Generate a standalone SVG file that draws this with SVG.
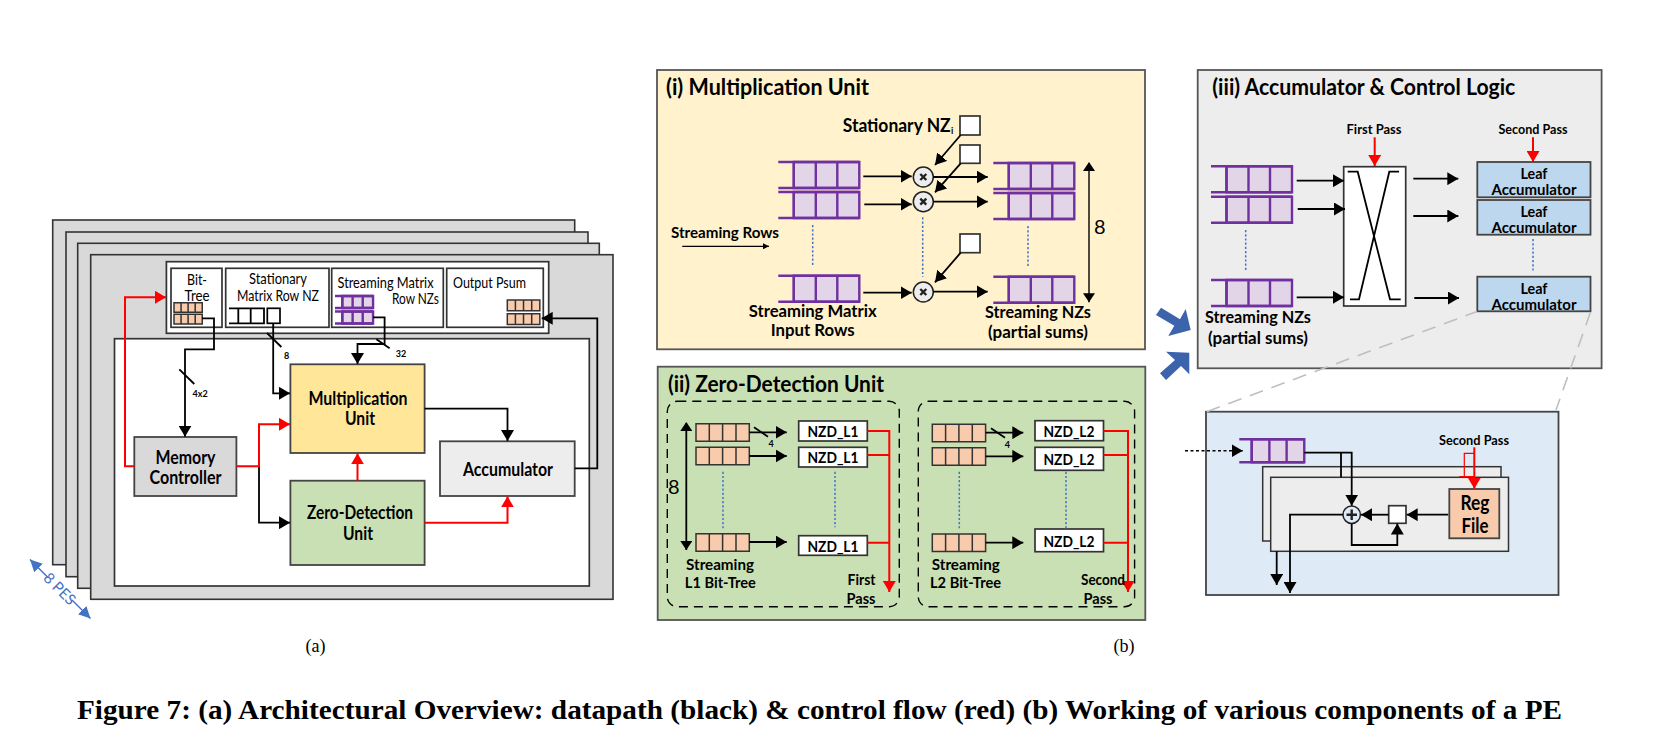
<svg xmlns="http://www.w3.org/2000/svg" xmlns:xlink="http://www.w3.org/1999/xlink" width="1672" height="750" viewBox="0 0 1672 750">
<style>
text{font-family:"Lato","Carlito","Liberation Sans",sans-serif;fill:#000}
.b{font-weight:700}
.m{text-anchor:middle}
.cap{font-family:"Liberation Serif",serif;font-weight:700;font-size:27px}
.ser{font-family:"Liberation Serif",serif;font-size:18px}
.pe{fill:#d9d9d9;stroke:#333;stroke-width:1.6}
.box{stroke:#444;stroke-width:1.8}
.w{fill:#fff;stroke:#333;stroke-width:1.7}
.panel{stroke:#555;stroke-width:1.8}
.k{fill:none;stroke:#000;stroke-width:1.8}
.r{fill:none;stroke:#f00;stroke-width:2}
.d{fill:none;stroke:#4472c4;stroke-width:1.5;stroke-dasharray:2.2 2}
.dash{fill:none;stroke:#000;stroke-width:1.4;stroke-dasharray:9 6}
.gd{fill:none;stroke:#bfbfbf;stroke-width:1.6;stroke-dasharray:14 9}
.qp{fill:#e1d5e7;stroke:#7030a0;stroke-width:2.4;vector-effect:non-scaling-stroke}
.ql{fill:none;stroke:#7030a0;stroke-width:2.4;vector-effect:non-scaling-stroke}
.qo{fill:#f8cbad;stroke:#333;stroke-width:1.5;vector-effect:non-scaling-stroke}
.qo2{fill:none;stroke:#333;stroke-width:1.5;vector-effect:non-scaling-stroke}
.mul{fill:#ededed;stroke:#222;stroke-width:1.5}
.x{stroke:#222;stroke-width:2.4;fill:none}
.lbl{font-size:16px;font-weight:700}
.sm{font-size:9px;font-weight:700}
.reg{font-size:15px}
</style>
<defs>
<marker id="a" markerUnits="userSpaceOnUse" markerWidth="12" markerHeight="13" refX="11" refY="6.5" orient="auto"><path d="M0 0L11 6.5L0 13z" fill="#000"/></marker>
<marker id="as" markerUnits="userSpaceOnUse" markerWidth="7" markerHeight="6" refX="6" refY="3" orient="auto"><path d="M0 0L6 3L0 6z" fill="#000"/></marker>
<marker id="ast" markerUnits="userSpaceOnUse" markerWidth="12" markerHeight="12" refX="1" refY="6" orient="auto"><path d="M9 0L0 6L9 12z" fill="#000"/></marker>
<marker id="ae" markerUnits="userSpaceOnUse" markerWidth="12" markerHeight="12" refX="9" refY="6" orient="auto"><path d="M0 0L9 6L0 12z" fill="#000"/></marker>
<marker id="ar" markerUnits="userSpaceOnUse" markerWidth="12" markerHeight="13" refX="11" refY="6.5" orient="auto"><path d="M0 0L11 6.5L0 13z" fill="#f00"/></marker>
<marker id="ab1" markerUnits="userSpaceOnUse" markerWidth="13" markerHeight="13" refX="12" refY="6" orient="auto"><path d="M0 0L12 6L0 12z" fill="#4472c4"/></marker>
<g id="qpurple"><rect class="qp" x="15.5" y="0" width="65.5" height="26"/><path class="ql" d="M0 0H81M0 26H81M15.5 0V26M37.5 0V26M59 0V26"/></g>
<g id="qorange"><rect class="qo" x="0" y="0" width="53.3" height="17.5"/><path class="qo2" d="M13.3 0V17.5M26.6 0V17.5M40 0V17.5"/></g>
<g id="mulsym"><circle class="mul" r="10"/><path class="x" d="M-3 -3L3 3M3 -3L-3 3"/></g>
</defs>
<rect width="1672" height="750" fill="#fff"/>

<g id="pe-stack">
<rect class="pe" x="52.7" y="220" width="522" height="344.7"/>
<rect class="pe" x="66" y="232" width="522" height="344.7"/>
<rect class="pe" x="77.7" y="243.3" width="521.6" height="345"/>
<rect class="pe" x="90.7" y="254.7" width="522.3" height="344.6"/>
<rect class="w" x="114.5" y="338.7" width="474.8" height="247.3"/>
</g>
<g id="pe-buffers">
<rect class="w" x="166.4" y="261.7" width="382.3" height="71.6"/>
<rect class="w" x="171" y="268.3" width="51" height="59"/>
<rect class="w" x="225.7" y="268.3" width="103.3" height="59"/>
<rect class="w" x="331.7" y="268.3" width="111.6" height="59"/>
<rect class="w" x="446.7" y="268.3" width="96.6" height="59"/>
<text class="reg m" x="197" y="284.5" textLength="20" lengthAdjust="spacingAndGlyphs">Bit-</text><text class="reg m" x="197" y="300.5" textLength="25" lengthAdjust="spacingAndGlyphs">Tree</text>
<text class="reg m" x="278" y="284" textLength="58" lengthAdjust="spacingAndGlyphs">Stationary</text>
<text class="reg m" x="278" y="300.5" textLength="82" lengthAdjust="spacingAndGlyphs">Matrix Row NZ</text>
<text class="reg" x="337.5" y="288" textLength="96" lengthAdjust="spacingAndGlyphs">Streaming Matrix</text>
<text class="reg" x="392" y="304" textLength="47" lengthAdjust="spacingAndGlyphs">Row NZs</text>
<text class="reg" x="453" y="288" textLength="73" lengthAdjust="spacingAndGlyphs">Output Psum</text>
<use href="#qorange" transform="translate(174 302.7) scale(.53 .55)"/>
<use href="#qorange" transform="translate(174 314.3) scale(.53 .55)"/>
<path class="k" d="M229 308.3H264V323.3H229M238.3 308.3V323.3M250.7 308.3V323.3"/>
<rect class="w" x="267.3" y="308.3" width="12.7" height="15" style="stroke:#000"/>
<use href="#qpurple" transform="translate(335 296) scale(.47 .46)"/>
<use href="#qpurple" transform="translate(335 311.5) scale(.47 .46)"/>
<use href="#qorange" transform="translate(507.3 300) scale(.61 .61)"/>
<use href="#qorange" transform="translate(507.3 313.7) scale(.61 .61)"/>
</g>
<g id="mult-a"><rect class="box" x="290.4" y="364.3" width="134.2" height="88.7" fill="#ffe699"/>
<text class="b m" x="358" y="405" font-size="18" textLength="99" lengthAdjust="spacingAndGlyphs">Multiplication</text><text class="b m" x="360" y="425" font-size="18" textLength="30" lengthAdjust="spacingAndGlyphs">Unit</text></g>
<g id="zero-a"><rect class="box" x="290.4" y="480.7" width="134.2" height="84.3" fill="#c9e0b4"/>
<text class="b m" x="360" y="519" font-size="18" textLength="106" lengthAdjust="spacingAndGlyphs">Zero-Detection</text><text class="b m" x="358" y="540" font-size="18" textLength="30" lengthAdjust="spacingAndGlyphs">Unit</text></g>
<g id="mem-a"><rect class="box" x="134.3" y="437" width="102.1" height="59" fill="#d9d9d9"/>
<text class="b m" x="185.5" y="464" font-size="18" textLength="60" lengthAdjust="spacingAndGlyphs">Memory</text><text class="b m" x="185.5" y="484" font-size="18" textLength="72" lengthAdjust="spacingAndGlyphs">Controller</text></g>
<g id="acc-a"><rect class="box" x="440" y="441.3" width="134.7" height="54.7" fill="#ededed"/>
<text class="b m" x="508" y="476" font-size="18" textLength="90" lengthAdjust="spacingAndGlyphs">Accumulator</text></g>

<g id="connectors-a">
<path class="k" d="M202 318.3H214V349.3H185V436.7" marker-end="url(#a)"/>
<path class="k" d="M273.2 323.3V393.3H290" marker-end="url(#a)"/>
<path class="k" d="M373 317.3H384.6V344H357.5V364" marker-end="url(#a)"/>
<path class="k" d="M574.7 468.3H597.3V318.3H541.7" marker-end="url(#a)"/>
<path class="k" d="M424.6 408.7H507.5V441" marker-end="url(#a)"/>
<path class="k" d="M259 466.3V522.7H290" marker-end="url(#a)"/>
<path class="r" d="M236.4 466.3H259V424.3H290" marker-end="url(#ar)"/>
<path class="r" d="M134.3 466.3H125V297.3H166" marker-end="url(#ar)"/>
<path class="r" d="M357.5 480.7V453.3" marker-end="url(#ar)"/>
<path class="r" d="M424.6 522.7H507.5V496.3" marker-end="url(#ar)"/>
<path class="k" d="M179.3 369.3L194.3 384M267 333L281.4 347M376.4 339.3L389.6 348.3"/>
<text class="sm" x="192.5" y="397">4x2</text><text class="sm" x="284" y="359">8</text><text class="sm" x="395.7" y="357">32</text>
<g id="pes-arrow">
<path d="M48 577.5L30 559.5" fill="none" stroke="#4472c4" stroke-width="1.5" marker-end="url(#ab1)"/>
<path d="M72 600L90.5 618.5" fill="none" stroke="#4472c4" stroke-width="1.5" marker-end="url(#ab1)"/>
<text transform="translate(59.5 589) rotate(45)" text-anchor="middle" font-size="15" style="fill:#4472c4" y="5">8 PES</text>
</g>
</g>
<text class="ser m" x="315.6" y="652">(a)</text>

<g id="panel-i">
<rect class="panel" x="657" y="70" width="488" height="279.3" fill="#fff2cc"/>
<text class="b" x="666" y="95" font-size="23" textLength="203" lengthAdjust="spacingAndGlyphs">(i) Multiplication Unit</text>
<text class="b" x="842.7" y="132" font-size="18" textLength="108" lengthAdjust="spacingAndGlyphs">Stationary NZ</text><text class="b" x="951" y="134" font-size="9">i</text>
<rect class="w" x="960" y="116" width="20" height="19"/><rect class="w" x="960" y="145" width="20" height="18.3"/><rect class="w" x="960" y="234" width="20" height="18.7"/>
<use href="#qpurple" x="778.3" y="162"/><use href="#qpurple" x="778.3" y="192"/><use href="#qpurple" x="778.3" y="275.7"/>
<use href="#qpurple" x="993.3" y="163"/><use href="#qpurple" x="993.3" y="193"/><use href="#qpurple" x="993.3" y="276.7"/>
<use href="#mulsym" x="923.3" y="177"/><use href="#mulsym" x="923.3" y="201.7"/><use href="#mulsym" x="923.3" y="292"/>
<path class="k" d="M960.7 135L935 165" marker-end="url(#a)"/><path class="k" d="M960.7 163.3L935 192.3" marker-end="url(#a)"/><path class="k" d="M960.7 252.7L935 282.3" marker-end="url(#a)"/>
<path class="k" d="M863.3 176.3H911.7" marker-end="url(#a)"/><path class="k" d="M864.3 204.3H911.7" marker-end="url(#a)"/><path class="k" d="M863.3 292.7H911.7" marker-end="url(#a)"/>
<path class="k" d="M933.3 177H987.7" marker-end="url(#a)"/><path class="k" d="M933.3 201.7H987.7" marker-end="url(#a)"/><path class="k" d="M933.3 291.7H987.7" marker-end="url(#a)"/>
<path class="d" d="M812.7 225V266.7M922.7 217.3V276.7M1028 226V267.3"/>
<text class="b" x="671" y="238.3" font-size="15.5" textLength="108" lengthAdjust="spacingAndGlyphs">Streaming Rows</text>
<path class="k" d="M682.3 246.3H769" marker-end="url(#as)" style="stroke-width:1.3"/>
<text class="b m" x="812.7" y="317" font-size="17" textLength="128" lengthAdjust="spacingAndGlyphs">Streaming Matrix</text>
<text class="b m" x="812.7" y="336" font-size="17" textLength="84" lengthAdjust="spacingAndGlyphs">Input Rows</text>
<text class="b m" x="1038" y="318" font-size="17" textLength="106" lengthAdjust="spacingAndGlyphs">Streaming NZs</text>
<text class="b m" x="1038" y="338" font-size="17" textLength="100" lengthAdjust="spacingAndGlyphs">(partial sums)</text>
<path class="k" d="M1089 163V302.3" style="stroke-width:1.4" marker-start="url(#ast)" marker-end="url(#ae)"/>
<text class="m" x="1099.7" y="233.5" font-size="20">8</text>
</g>

<g id="panel-ii">
<rect class="panel" x="657.7" y="366.7" width="487.6" height="253.3" fill="#c9e0b4"/>
<text class="b" x="668" y="391.7" font-size="23" textLength="216" lengthAdjust="spacingAndGlyphs">(ii) Zero-Detection Unit</text>
<rect class="dash" x="667.3" y="401.3" width="232" height="205.4" rx="10"/>
<rect class="dash" x="918.3" y="401.3" width="216.3" height="205.4" rx="10"/>
<use href="#qorange" x="696" y="423.7"/><use href="#qorange" x="696" y="447.3"/><use href="#qorange" x="696" y="533.7"/>
<use href="#qorange" x="932.3" y="424.3"/><use href="#qorange" x="932.3" y="447.7"/><use href="#qorange" x="932.3" y="534"/>
<g id="nzd-l1">
<rect class="w" x="798.7" y="421" width="68.6" height="20"/><rect class="w" x="798.7" y="447.3" width="68.6" height="19.7"/><rect class="w" x="798.7" y="535.7" width="68.6" height="19.6"/>
<text class="b m" x="833" y="436.7" font-size="16" textLength="51" lengthAdjust="spacingAndGlyphs">NZD_L1</text>
<text class="b m" x="833" y="462.7" font-size="16" textLength="51" lengthAdjust="spacingAndGlyphs">NZD_L1</text>
<text class="b m" x="833" y="551.7" font-size="16" textLength="51" lengthAdjust="spacingAndGlyphs">NZD_L1</text>
</g>
<g id="nzd-l2">
<rect class="w" x="1035" y="420.7" width="68.5" height="20"/><rect class="w" x="1035" y="447.3" width="68.5" height="23"/><rect class="w" x="1035" y="529" width="68.5" height="22.7"/>
<text class="b m" x="1069" y="436.7" font-size="16" textLength="51" lengthAdjust="spacingAndGlyphs">NZD_L2</text>
<text class="b m" x="1069" y="465" font-size="16" textLength="51" lengthAdjust="spacingAndGlyphs">NZD_L2</text>
<text class="b m" x="1069" y="546.7" font-size="16" textLength="51" lengthAdjust="spacingAndGlyphs">NZD_L2</text>
</g>
<path class="k" d="M749.3 432.3H786.7" marker-end="url(#a)"/><path class="k" d="M749.3 456H786.7" marker-end="url(#a)"/><path class="k" d="M749 542H786.7" marker-end="url(#a)"/>
<path class="k" d="M985.7 432.7H1023.3" marker-end="url(#a)"/><path class="k" d="M985.7 456.3H1023.3" marker-end="url(#a)"/><path class="k" d="M985.7 542.7H1023.3" marker-end="url(#a)"/>
<path class="k" d="M754 427.3L768 436.7M991 428.3L1005 437.7"/>
<text class="sm m" x="771" y="447">4</text><text class="sm m" x="1007.3" y="447.7">4</text>
<path class="k" d="M686.3 423V550" marker-start="url(#ast)" marker-end="url(#ae)"/>
<text class="m" x="673.8" y="494" font-size="20">8</text>
<path class="d" d="M723 471.7V528.3M835 471.7V527.3M959.3 471.7V528.3M1066 471.7V529"/>
<path class="r" d="M867.3 455H889.3M867.3 542.7H889.3M867.3 431H889.3V592" marker-end="url(#ar)"/>
<path class="r" d="M1103.5 455H1128M1103.5 542.7H1128M1103.5 431H1128V592" marker-end="url(#ar)"/>
<text class="lbl m" x="720" y="570" textLength="68" lengthAdjust="spacingAndGlyphs">Streaming</text>
<text class="lbl m" x="720.3" y="588.3" textLength="71" lengthAdjust="spacingAndGlyphs">L1 Bit-Tree</text>
<text class="lbl m" x="965.8" y="570" textLength="68" lengthAdjust="spacingAndGlyphs">Streaming</text>
<text class="lbl m" x="965.5" y="588.3" textLength="71" lengthAdjust="spacingAndGlyphs">L2 Bit-Tree</text>
<text class="lbl m" x="861.5" y="585" textLength="28" lengthAdjust="spacingAndGlyphs">First</text>
<text class="lbl m" x="861" y="604" textLength="29" lengthAdjust="spacingAndGlyphs">Pass</text>
<text class="lbl m" x="1103" y="585" textLength="44" lengthAdjust="spacingAndGlyphs">Second</text>
<text class="lbl m" x="1098" y="604" textLength="29" lengthAdjust="spacingAndGlyphs">Pass</text>
</g>

<g id="panel-iii">
<rect class="panel" x="1197.7" y="70" width="403.9" height="298.3" fill="#ededed"/>
<text class="b" x="1212.3" y="95" font-size="23" textLength="303" lengthAdjust="spacingAndGlyphs">(iii) Accumulator &amp; Control Logic</text>
<text class="b m" x="1374" y="134" font-size="13.5" textLength="55" lengthAdjust="spacingAndGlyphs">First Pass</text>
<text class="b m" x="1533" y="134" font-size="13.5" textLength="69" lengthAdjust="spacingAndGlyphs">Second Pass</text>
<path class="r" d="M1374.7 137.3V166" marker-end="url(#ar)"/><path class="r" d="M1533 137.3V162" marker-end="url(#ar)"/>
<rect class="w" x="1343.7" y="166.7" width="62" height="139.3"/>
<path class="k" d="M1347.7 171.7H1357.7L1390 299.3H1400.7M1399 171.7H1389.3L1359 299.3H1350"/>
<use href="#qpurple" x="1211" y="166.3"/><use href="#qpurple" x="1211" y="196.7"/><use href="#qpurple" x="1211" y="280"/>
<path class="k" d="M1296.7 180.7H1344" marker-end="url(#a)"/><path class="k" d="M1297.7 209H1345" marker-end="url(#a)"/><path class="k" d="M1296.7 297.3H1344" marker-end="url(#a)"/>
<path class="d" d="M1245.7 230V271.7"/>
<path class="k" d="M1413.3 178.7H1458.3" marker-end="url(#a)"/><path class="k" d="M1413.3 216H1458.3" marker-end="url(#a)"/><path class="k" d="M1414.3 298H1459" marker-end="url(#a)"/>
<g id="leaf-1"><rect class="box" x="1477.3" y="162" width="113.2" height="35.3" fill="#bdd7ee"/><text class="b m" x="1534" y="179" font-size="15" textLength="27" lengthAdjust="spacingAndGlyphs">Leaf</text><text class="b m" x="1534" y="195" font-size="15" textLength="85" lengthAdjust="spacingAndGlyphs">Accumulator</text></g>
<g id="leaf-2"><rect class="box" x="1477.3" y="200" width="113.2" height="34.7" fill="#bdd7ee"/><text class="b m" x="1534" y="217" font-size="15" textLength="27" lengthAdjust="spacingAndGlyphs">Leaf</text><text class="b m" x="1534" y="232.7" font-size="15" textLength="85" lengthAdjust="spacingAndGlyphs">Accumulator</text></g>
<g id="leaf-3"><rect class="box" x="1477.3" y="276.7" width="113.2" height="34.6" fill="#bdd7ee"/><text class="b m" x="1534" y="294" font-size="15" textLength="27" lengthAdjust="spacingAndGlyphs">Leaf</text><text class="b m" x="1534" y="310" font-size="15" textLength="85" lengthAdjust="spacingAndGlyphs">Accumulator</text></g>
<path class="d" d="M1533 239V272"/>
<text class="b m" x="1258" y="323.3" font-size="17" textLength="106" lengthAdjust="spacingAndGlyphs">Streaming NZs</text>
<text class="b m" x="1258" y="344" font-size="17" textLength="100" lengthAdjust="spacingAndGlyphs">(partial sums)</text>
</g>

<g id="flow-arrows" fill="#3b64ad">
<polygon points="1156,315 1161,307.7 1180,319.3 1185.7,309 1190.7,330 1168.3,336 1174.3,325.7"/>
<polygon points="1166,351.7 1189.3,352.7 1189.3,374.3 1181,366 1166,380 1160,373.3 1175,360"/>
</g>

<g id="panel-detail">
<rect class="panel" x="1206" y="411.7" width="352.5" height="183.3" fill="#deeaf5" style="stroke:#444"/>
<path class="gd" d="M1206.7 411.7L1477 311.5M1590.5 312L1556 410"/>
<g id="detail-frames">
<rect x="1262.7" y="466.7" width="238.3" height="74.3" fill="#ededed" stroke="#333" stroke-width="1.5"/>
<rect x="1270.7" y="477.3" width="237.8" height="74" fill="#ededed" stroke="#333" stroke-width="1.5"/>
</g>
<use href="#qpurple" transform="translate(1239.3 439.3) scale(.802 .885)"/>
<path d="M1185 450.7H1242.7" fill="none" stroke="#000" stroke-width="1.5" stroke-dasharray="3 2.5" marker-end="url(#a)"/>
<path class="k" d="M1304.3 452.7H1351.7V505.7" marker-end="url(#a)"/><path class="k" d="M1341 452.7V477.3"/>
<g id="adder"><circle cx="1351.7" cy="514.7" r="8.7" fill="#deeaf5" stroke="#222" stroke-width="1.5"/><path d="M1351.7 509.5V520M1346.5 514.7H1357" stroke="#222" stroke-width="2.4"/></g>
<rect class="w" x="1388.7" y="505.7" width="17.3" height="17.6"/>
<path class="k" d="M1388.7 514.7H1361" marker-end="url(#a)"/>
<path class="k" d="M1448.3 514.7H1406.7" marker-end="url(#a)"/>
<path class="k" d="M1351.7 523.4V545H1397.3V523.5" marker-end="url(#a)"/>
<path class="k" d="M1343 514.7H1290V593" marker-end="url(#a)"/><path class="k" d="M1276.7 551.3V585" marker-end="url(#a)"/>
<g id="reg-file"><rect class="box" x="1449.3" y="489" width="50" height="49.3" fill="#f8cbad"/>
<text class="b m" x="1475" y="510" font-size="20" textLength="29" lengthAdjust="spacingAndGlyphs">Reg</text><text class="b m" x="1475" y="532.7" font-size="20" textLength="27" lengthAdjust="spacingAndGlyphs">File</text></g>
<text class="b m" x="1474" y="445" font-size="13.5" textLength="70" lengthAdjust="spacingAndGlyphs">Second Pass</text>
<path class="r" d="M1474.3 447.3V488.7" marker-end="url(#ar)"/>
<path d="M1474.3 453.3H1464.3V476.7H1459.3M1464.3 476.7H1474.3" fill="none" stroke="#f00" stroke-width="1.2"/>
</g>
<text class="ser m" x="1124" y="652">(b)</text>
<text class="cap" x="77" y="719" textLength="1485" lengthAdjust="spacingAndGlyphs">Figure 7: (a) Architectural Overview: datapath (black) &amp; control flow (red) (b) Working of various components of a PE</text>
</svg>
